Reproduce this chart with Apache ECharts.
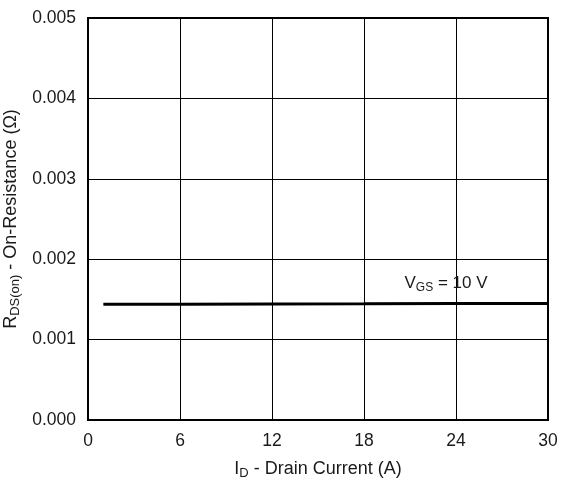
<!DOCTYPE html>
<html>
<head>
<meta charset="utf-8">
<script src="https://cdn.jsdelivr.net/npm/echarts@6/dist/echarts.min.js"></script>
<style>
  html, body { margin: 0; padding: 0; background: #fff; }
  #chart { width: 563px; height: 499px; }
</style>
</head>
<body>
<div id="chart"></div>
<script>
// Drain current (A) and on-resistance (Ω) at VGS = 10 V
var drainCurrent = [1, 6, 12, 18, 24, 30];
var onResistance = [0.00144, 0.00144, 0.001443, 0.001445, 0.001448, 0.00145];
var xTicks = [0, 6, 12, 18, 24, 30];
var yTicks = [0, 0.001, 0.002, 0.003, 0.004, 0.005];
var curveLabelAt = [23.35, 0.001448];

var font = '"Liberation Sans", Arial, Helvetica, sans-serif';
var ink = '#1a1a1a';
var chart = echarts.init(document.getElementById('chart'));

var points = drainCurrent.map(function (x, i) { return [x, onResistance[i]]; });

// main text + subscript styles shared by axis names and the curve label
function richText(size, subSize) {
  return {
    r: { fontSize: size, fontFamily: font, color: ink },
    s: { fontSize: subSize, fontFamily: font, color: ink, verticalAlign: 'bottom', padding: [8, 0, 0, 0] }
  };
}

chart.setOption({
  animation: false,
  backgroundColor: '#fff',
  grid: {
    left: 88, right: 15, top: 18, bottom: 79,
    containLabel: false, outerBoundsMode: 'none',
    show: true, borderColor: '#000', borderWidth: 2
  },
  xAxis: {
    type: 'value',
    min: xTicks[0], max: xTicks[xTicks.length - 1], interval: 6,
    axisLine: { show: false },
    axisTick: { show: false },
    splitLine: { show: true, lineStyle: { color: '#000', width: 1 } },
    axisLabel: { color: ink, fontSize: 17.5, fontFamily: font, margin: 12 },
    name: '{r|I}{s|D}{r| - Drain Current (A)}',
    nameLocation: 'middle', nameGap: 39,
    nameTextStyle: { rich: richText(18, 13) }
  },
  yAxis: {
    type: 'value',
    min: yTicks[0], max: yTicks[yTicks.length - 1], interval: 0.001,
    axisLine: { show: false },
    axisTick: { show: false },
    splitLine: { show: true, lineStyle: { color: '#000', width: 1 } },
    axisLabel: {
      color: ink, fontSize: 17.5, fontFamily: font, margin: 12,
      formatter: function (v) { return v.toFixed(3); }
    },
    name: '{r|R}{s|DS(on)}{r| - On-Resistance (Ω)}',
    nameLocation: 'middle', nameGap: 66, nameRotate: 90,
    nameMoveOverlap: false,
    nameTextStyle: { rich: richText(18, 13) }
  },
  series: [{
    type: 'line',
    data: points,
    symbol: 'none',
    lineStyle: { color: '#000', width: 3 },
    markPoint: {
      symbol: 'circle', symbolSize: 0,
      data: [{ coord: curveLabelAt }],
      label: {
        show: true,
        position: 'top',
        distance: 10,
        formatter: '{r|V}{s|GS}{r| = 10 V}',
        rich: richText(17, 12)
      }
    }
  }]
});
</script>
</body>
</html>
